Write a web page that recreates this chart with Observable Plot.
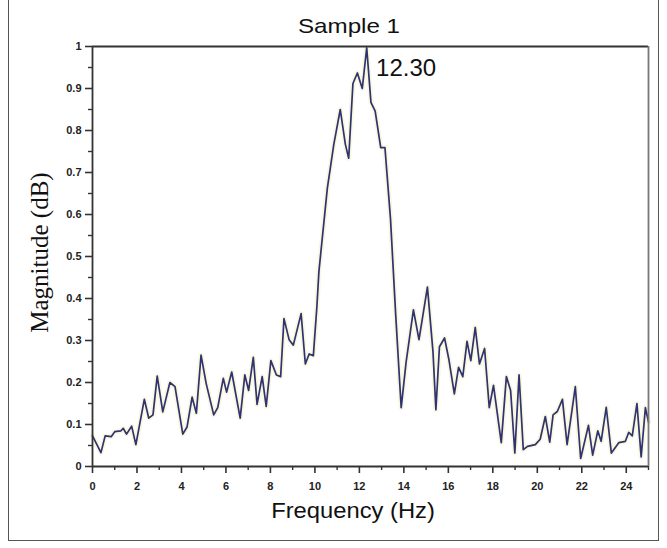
<!DOCTYPE html>
<html><head><meta charset="utf-8">
<script src="https://cdn.jsdelivr.net/npm/d3@7"></script>
<script src="https://cdn.jsdelivr.net/npm/@observablehq/plot@0.6"></script>
<style>
html,body{margin:0;padding:0;background:#fff;}
#fig{position:relative;width:667px;height:548px;overflow:hidden;background:#fff;font-family:"Liberation Sans",Arial,sans-serif;color:#111;}
#border{position:absolute;left:8px;top:-3px;width:651px;height:544px;border:1.5px solid #555;border-top:none;box-sizing:border-box;}
#title{position:absolute;left:149px;width:400px;top:15px;text-align:center;font-size:21px;line-height:21px;transform:scaleX(1.15);}
#xlabel{position:absolute;left:153px;width:400px;top:500px;text-align:center;font-size:22px;line-height:22px;transform:scaleX(1.08);}
#ylabel{position:absolute;left:-111px;width:300px;top:240px;text-align:center;font-family:"Liberation Serif","Times New Roman",serif;font-size:25px;line-height:25px;transform:rotate(-90deg);}
#chart{position:absolute;left:0;top:36px;}
</style></head>
<body>
<div id="fig">
  <div id="border"></div>
  <div id="title">Sample 1</div>
  <div id="chart"></div>
  <div id="ylabel">Magnitude (dB)</div>
  <div id="xlabel">Frequency (Hz)</div>
</div>
<script>
const freq = [0,0.38,0.57,0.84,1.0,1.28,1.38,1.53,1.76,1.95,
  2.33,2.53,2.72,2.91,3.16,3.48,3.71,4.06,4.25,4.48,
  4.67,4.88,5.11,5.45,5.63,5.88,6.03,6.26,6.64,6.85,
  7.02,7.23,7.40,7.63,7.81,8.02,8.27,8.46,8.61,8.84,
  9.03,9.38,9.57,9.74,9.93,10.09,10.18,10.56,10.85,11.14,
  11.37,11.52,11.71,11.91,12.13,12.33,12.52,12.71,12.96,13.15,
  13.40,13.63,13.88,14.10,14.43,14.68,15.06,15.31,15.44,15.60,
  15.83,16.02,16.27,16.46,16.65,16.84,17.01,17.21,17.40,17.63,
  17.84,18.03,18.38,18.61,18.80,18.99,19.18,19.37,19.56,19.91,
  20.13,20.36,20.56,20.71,20.90,21.13,21.34,21.71,21.95,22.30,
  22.49,22.72,22.87,23.10,23.33,23.67,23.96,24.11,24.27,24.48,
  24.67,24.86,25.0];
const magnitude = [0.073,0.033,0.073,0.071,0.083,0.085,0.091,0.077,0.096,0.052,
  0.160,0.115,0.123,0.215,0.130,0.200,0.190,0.077,0.094,0.165,
  0.127,0.265,0.198,0.123,0.140,0.210,0.177,0.225,0.115,0.218,
  0.181,0.260,0.148,0.214,0.143,0.252,0.218,0.214,0.352,0.302,
  0.289,0.364,0.244,0.268,0.264,0.381,0.464,0.663,0.767,0.850,
  0.767,0.734,0.912,0.937,0.900,0.997,0.867,0.846,0.759,0.759,
  0.589,0.364,0.140,0.248,0.373,0.302,0.427,0.273,0.135,0.285,
  0.306,0.256,0.173,0.236,0.214,0.298,0.252,0.331,0.244,0.281,
  0.140,0.193,0.057,0.214,0.181,0.032,0.218,0.040,0.048,0.052,
  0.065,0.119,0.058,0.123,0.131,0.160,0.052,0.190,0.019,0.098,
  0.027,0.085,0.060,0.141,0.032,0.057,0.060,0.081,0.073,0.150,
  0.023,0.140,0.106];
const xTicks = [0,2,4,6,8,10,12,14,16,18,20,22,24];
const xMinorTicks = [1,3,5,7,9,11,13,15,17,19,21,23,25];
const yTicks = [0,0.1,0.2,0.3,0.4,0.5,0.6,0.7,0.8,0.9,1];
const yTickLabels = ["0","0.1","0.2","0.3","0.4","0.5","0.6","0.7","0.8","0.9","1"];
const yMinorTicks = [0.05,0.15,0.25,0.35,0.45,0.55,0.65,0.75,0.85,0.95];
const peakFreq = [12.3];
const peakMag = [1.0];
const peakLabel = ["12.30"];

const data = freq.map((f, i) => ({f, m: magnitude[i]}));
const peak = peakFreq.map((f, i) => ({f, m: peakMag[i], label: peakLabel[i]}));

const axisCol = "#333";
const chart = Plot.plot({
  width: 667,
  height: 512,
  marginLeft: 92,
  marginRight: 19,
  marginTop: 10,
  marginBottom: 82,
  style: {fontFamily: "'Liberation Sans', Arial, sans-serif", background: "transparent", overflow: "visible"},
  x: {domain: [0, 25], label: null},
  y: {domain: [0, 1], label: null},
  marks: [
    Plot.line(data, {x: "f", y: "m", stroke: "#f7f3cf", strokeWidth: 5, strokeOpacity: 0.7}),
    Plot.line(data, {x: "f", y: "m", stroke: "#2f3371", strokeWidth: 1.7}),
    Plot.ruleY([0], {stroke: axisCol, strokeWidth: 1.8}),
    Plot.ruleY([1], {stroke: axisCol, strokeWidth: 1.8}),
    Plot.ruleX([0], {stroke: axisCol, strokeWidth: 1.8}),
    Plot.ruleX([25], {stroke: "#777", strokeWidth: 1.8}),
    Plot.axisX({ticks: xTicks, label: null, tickSize: 7, tickPadding: 9, stroke: axisCol, strokeWidth: 1.6,
      fill: "#222", fontSize: 11, fontWeight: "bold", tickFormat: d => String(d)}),
    Plot.axisX({ticks: xMinorTicks, label: null, tickSize: 4, stroke: axisCol, strokeWidth: 1.4, tickFormat: () => ""}),
    Plot.axisY({ticks: yTicks, label: null, tickSize: 7, tickPadding: 4, stroke: axisCol, strokeWidth: 1.6,
      fill: "#222", fontSize: 11, fontWeight: "bold", tickFormat: (d, i) => yTickLabels[i]}),
    Plot.axisY({ticks: yMinorTicks, label: null, tickSize: 4, stroke: axisCol, strokeWidth: 1.4, tickFormat: () => ""}),
    Plot.text(peak, {x: "f", y: "m", text: "label", textAnchor: "start", lineAnchor: "bottom",
      dx: 10, dy: 29, fontSize: 24, fill: "#111"})
  ]
});
document.getElementById("chart").appendChild(chart);
</script>
</body></html>
